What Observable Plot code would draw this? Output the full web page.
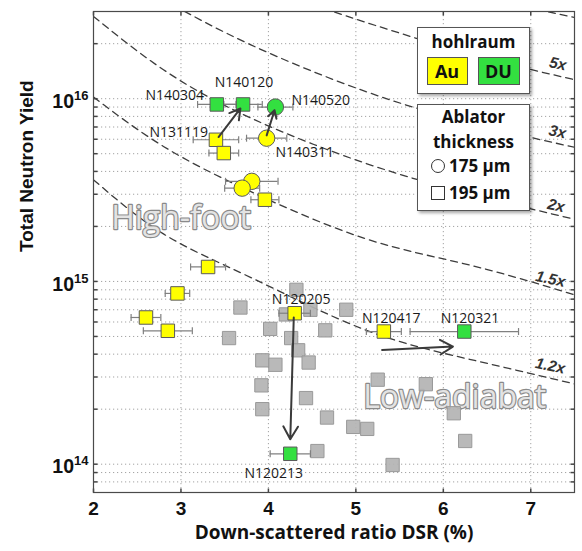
<!DOCTYPE html>
<html>
<head>
<meta charset="utf-8">
<script src="https://cdn.jsdelivr.net/npm/d3@7"></script>
<script src="https://cdn.jsdelivr.net/npm/@observablehq/plot@0.6"></script>
<style>
  body { margin: 0; background: #fff; }
  #wrap { position: relative; width: 582px; height: 551px; }
  #wrap svg { position: absolute; left: 0; top: 0; }
  .box { position: absolute; box-sizing: border-box; background: #fff; border: 1.5px solid #555;
         box-shadow: 2px 2px 3px rgba(0,0,0,0.35); font-family: "Open Sans", sans-serif; font-weight: bold; color: #111; }
  .box div { position: absolute; }
  .ctr { left: 0; right: 0; text-align: center; font-size: 17px; line-height: 24px; }
  .sw { box-sizing: border-box; border: 1px solid #555; width: 41px; height: 28px; text-align: center; line-height: 26px; font-size: 18px; }
  .row { left: 31px; font-size: 17px; line-height: 24px; white-space: nowrap; }
  .ic { box-sizing: border-box; border: 1.6px solid #333; width: 14px; height: 14px; background: #fff; left: 13px; }
</style>
</head>
<body>
<div id="wrap"></div>
<script>
// ---- axes / ticks ----
const xTicks = [2, 3, 4, 5, 6, 7];
const yMajor = [1e14, 1e15, 1e16];
const yGrid = [8e13, 9e13, 1e14, 2e14, 3e14, 4e14, 5e14, 6e14, 7e14, 8e14, 9e14,
               1e15, 2e15, 3e15, 4e15, 5e15, 6e15, 7e15, 8e15, 9e15, 1e16, 2e16];

// ---- gray (low-adiabat database) shots ----
const grayDSR   = [4.32, 3.68, 4.48, 4.20, 4.89, 4.02, 4.65, 3.55, 4.26, 4.34, 3.93, 4.08, 4.46,
                   5.25, 3.92, 4.43, 3.93, 4.67, 4.97, 5.13, 4.56, 5.42, 5.80, 6.12, 6.25];
const grayYield = [9.0e14, 7.2e14, 7.0e14, 6.6e14, 7.0e14, 5.5e14, 5.4e14, 4.9e14, 4.9e14, 4.2e14, 3.7e14, 3.5e14, 3.6e14,
                   2.9e14, 2.7e14, 2.3e14, 2.0e14, 1.8e14, 1.6e14, 1.56e14, 1.18e14, 9.9e13, 2.74e14, 1.9e14, 1.34e14];

// ---- highlighted shots ----
const shotHohlraum = ["DU","DU","DU","Au","Au","Au","Au","Au","Au","Au","Au","Au","Au","Au","DU","Au","DU"];
const shotAblator  = [195, 195, 175, 195, 175, 195, 175, 175, 195, 195, 195, 195, 195, 195, 195, 195, 195];
const shotDSR      = [3.41, 3.71, 4.08, 3.40, 3.98, 3.49, 3.81, 3.70, 3.96, 3.31, 2.96, 2.60, 2.85, 4.30, 4.25, 5.32, 6.24];
const shotYield    = [9.3e15, 9.3e15, 9.0e15, 5.96e15, 6.08e15, 5.04e15, 3.53e15, 3.24e15, 2.80e15,
                      1.2e15, 8.6e14, 6.35e14, 5.37e14, 6.7e14, 1.14e14, 5.32e14, 5.32e14];
const shotDSRErr   = [0.22, 0.22, 0.20, 0.26, 0.23, 0.17, 0.30, 0.20, 0.16, 0.20, 0.14, 0.17, 0.28, 0.18, 0.23, 0.20, 0.62];

// ---- shot labels ----
const labelText   = ["N140304","N140120","N140520","N131119","N140311","N120205","N120213","N120417","N120321"];
const labelDSR    = [3.263, 3.72, 4.263, 3.309, 4.081, 4.374, 4.062, 5.404, 6.305];
const labelYield  = [1.045e16, 1.22e16, 9.72e15, 6.5e15, 5.1e15, 7.92e14, 8.86e13, 6.28e14, 6.28e14];
const labelAnchor = ["end","middle","start","end","start","middle","middle","middle","middle"];

// ---- arrows ----
const arrowFromDSR   = [3.43, 3.98, 4.29, 5.30];
const arrowFromYield = [6.17e15, 6.3e15, 6.35e14, 4.22e14];
const arrowToDSR     = [3.68, 4.07, 4.25, 6.11];
const arrowToYield   = [8.84e15, 8.65e15, 1.37e14, 4.4e14];

// ---- iso-amplification dashed curves ----
const curveDSR  = [2.0, 2.8, 3.8, 5.1, 6.3, 7.5];
const curve1_2  = [3.6e15, 1.82e15, 1.05e15, 5.45e14, 3.75e14, 2.75e14];
const curve1_5  = [1.02e16, 5.48e15, 3.1e15, 1.72e15, 1.23e15, 8.45e14];
const curve2    = [2.82e16, 1.44e16, 7.83e15, 4.45e15, 3.02e15, 2.19e15];
const curve3DSR = [2.8, 3.8, 5.1, 6.3, 7.5];
const curve3    = [3.47e16, 1.97e16, 1.1e16, 7.38e15, 5.42e15];
const curve5DSR = [4.5, 5.1, 6.3, 7.5];
const curve5    = [3.29e16, 2.63e16, 1.76e16, 1.27e16];
const curveTopDSR = [6.8, 7.5];
const curveTop    = [3.3e16, 2.78e16];

const curveLabelText  = ["5x", "3x", "2x", "1.5x", "1.2x"];
const curveLabelDSR   = [7.31, 7.305, 7.29, 7.225, 7.222];
const curveLabelYield = [1.55e16, 6.58e15, 2.6e15, 1.03e15, 3.45e14];

// ---- background region labels ----
const regionText  = ["High-foot", "Low-adiabat"];
const regionDSR   = [3.0, 6.13];
const regionYield = [2.2e15, 2.31e14];

// ---- colours ----
const hohlraumColor = { Au: "#ffff00", DU: "#33e040" };

// ---- build tables ----
const curveRows = [];
[[curveDSR, curve1_2, "1.2x"], [curveDSR, curve1_5, "1.5x"], [curveDSR, curve2, "2x"],
 [curve3DSR, curve3, "3x"], [curve5DSR, curve5, "5x"], [curveTopDSR, curveTop, "top"]]
  .forEach(([xs, ys, c]) => xs.forEach((x, i) => curveRows.push({ x, y: ys[i], c })));

const gray = grayDSR.map((x, i) => ({ x, y: grayYield[i] }));
const shots = shotDSR.map((x, i) => ({ x, y: shotYield[i], e: shotDSRErr[i], h: shotHohlraum[i], a: shotAblator[i] }));
const labels = labelText.map((t, i) => ({ t, x: labelDSR[i], y: labelYield[i], anchor: labelAnchor[i] }));
const arrows = arrowFromDSR.map((x1, i) => ({ x1, y1: arrowFromYield[i], x2: arrowToDSR[i], y2: arrowToYield[i] }));
const curveLabels = curveLabelText.map((t, i) => ({ t, x: curveLabelDSR[i], y: curveLabelYield[i] }));
const regions = regionText.map((t, i) => ({ t, x: regionDSR[i], y: regionYield[i] }));

// custom tick / cap symbols
const vCap = { draw(ctx) { ctx.moveTo(0, -3.5); ctx.lineTo(0, 3.5); } };
const tickL = { draw(ctx) { ctx.moveTo(0, 0); ctx.lineTo(4, 0); } };
const tickR = { draw(ctx) { ctx.moveTo(0, 0); ctx.lineTo(-4, 0); } };
const tickB = { draw(ctx) { ctx.moveTo(0, 0); ctx.lineTo(0, -4); } };
const tickT = { draw(ctx) { ctx.moveTo(0, 0); ctx.lineTo(0, 4); } };

const labelFont = { fontFamily: "Open Sans", fontSize: 14, fill: "#1a1a1a" };

const chart = Plot.plot({
  width: 582, height: 551,
  marginLeft: 93, marginRight: 8, marginTop: 11, marginBottom: 59,
  style: { fontFamily: "Liberation Sans", background: "#fff" },
  x: { domain: [2, 7.5] },
  y: { type: "log", domain: [7e13, 3e16] },
  marks: [
    Plot.gridX({ ticks: xTicks, stroke: "#999", strokeOpacity: 0.9, strokeDasharray: "1.2,2.8" }),
    Plot.gridY({ ticks: yGrid, stroke: "#999", strokeOpacity: 0.9, strokeDasharray: "1.2,2.8" }),
    Plot.line(curveRows, { x: "x", y: "y", z: "c", stroke: "#3c3c3c", strokeWidth: 1.3, strokeDasharray: "7,5", curve: "natural", clip: true }),
    Plot.text(regions, { x: "x", y: "y", text: "t", fontFamily: "Open Sans", fontSize: 32, fill: "#e3e3e3", stroke: "#8a8a8a", strokeWidth: 2.4 }),
    Plot.dot(gray, { x: "x", y: "y", symbol: "square", r: 7.5, fill: "#b3b3b3", fillOpacity: 0.92, stroke: "#999", strokeWidth: 1 }),
    Plot.ruleY(shots, { y: "y", x1: d => d.x - d.e, x2: d => d.x + d.e, stroke: "#808080", strokeWidth: 1.2 }),
    Plot.dot(shots, { x: d => d.x - d.e, y: "y", symbol: vCap, fill: "none", stroke: "#808080", strokeWidth: 1.2 }),
    Plot.dot(shots, { x: d => d.x + d.e, y: "y", symbol: vCap, fill: "none", stroke: "#808080", strokeWidth: 1.2 }),
    Plot.dot(shots.filter(d => d.a === 195), { x: "x", y: "y", symbol: "square", r: 7.6, fill: d => hohlraumColor[d.h], stroke: "#5a5a5a", strokeWidth: 1 }),
    Plot.dot(shots.filter(d => d.a === 175), { x: "x", y: "y", symbol: "circle", r: 8.2, fill: d => hohlraumColor[d.h], stroke: "#5a5a5a", strokeWidth: 1 }),
    Plot.arrow(arrows, { x1: "x1", y1: "y1", x2: "x2", y2: "y2", stroke: "#3a3a3a", strokeWidth: 2, headLength: 11 }),
    Plot.text(labels.filter(d => d.anchor === "middle"), { x: "x", y: "y", text: "t", textAnchor: "middle", ...labelFont }),
    Plot.text(labels.filter(d => d.anchor === "start"), { x: "x", y: "y", text: "t", textAnchor: "start", ...labelFont }),
    Plot.text(labels.filter(d => d.anchor === "end"), { x: "x", y: "y", text: "t", textAnchor: "end", ...labelFont }),
    Plot.text(curveLabels, { x: "x", y: "y", text: "t", fontFamily: "Liberation Sans", fontWeight: "bold", fontStyle: "italic", fontSize: 15.5, fill: "#333", rotate: 12 }),
    // inward frame ticks
    Plot.dot(yGrid, { y: d => d, frameAnchor: "left", symbol: tickL, fill: "none", stroke: "#444" }),
    Plot.dot(yGrid, { y: d => d, frameAnchor: "right", symbol: tickR, fill: "none", stroke: "#444" }),
    Plot.dot(xTicks, { x: d => d, frameAnchor: "bottom", symbol: tickB, fill: "none", stroke: "#444" }),
    Plot.dot(xTicks, { x: d => d, frameAnchor: "top", symbol: tickT, fill: "none", stroke: "#444" }),
    Plot.frame({ stroke: "#4a4a4a", strokeWidth: 1.2 }),
    Plot.axisX({ ticks: xTicks, tickSize: 0, tickPadding: 9, tickFormat: d => String(d), fontSize: 19, fontWeight: "bold", fill: "#111", label: null }),
    Plot.axisY({ ticks: yMajor, tickSize: 0, tickPadding: 5, dy: 3, tickFormat: d => String(Math.round(Math.log10(d))), fontSize: 19.5, fontWeight: "bold", fill: "#111", label: null }),
    Plot.text(["Down-scattered ratio DSR (%)"], { text: d => d, frameAnchor: "bottom", dy: 46, fontFamily: "Open Sans", fontWeight: "bold", fontSize: 19, fill: "#111" }),
    Plot.text(["Total Neutron Yield"], { text: d => d, frameAnchor: "left", dx: -67, rotate: -90, fontFamily: "Liberation Sans", fontWeight: "bold", fontSize: 19, fill: "#111" })
  ]
});

// superscript exponents on y tick labels
const NS = "http://www.w3.org/2000/svg";
chart.querySelectorAll('g[aria-label="y-axis tick label"] text').forEach(t => {
  const exp = t.textContent;
  t.textContent = "";
  const base = document.createElementNS(NS, "tspan");
  base.textContent = "10";
  const sup = document.createElementNS(NS, "tspan");
  sup.setAttribute("dy", "-8");
  sup.setAttribute("font-size", "13");
  sup.textContent = exp;
  t.appendChild(base);
  t.appendChild(sup);
});

const wrap = document.getElementById("wrap");
wrap.appendChild(chart);

// legend boxes (HTML overlay)
wrap.insertAdjacentHTML("beforeend", `
  <div class="box" style="left:417px;top:27px;width:113px;height:67px;">
    <div class="ctr" style="top:2px;">hohlraum</div>
    <div class="sw" style="left:8.5px;top:28.5px;background:${hohlraumColor.Au};">Au</div>
    <div class="sw" style="left:59.5px;top:28.5px;width:42px;background:${hohlraumColor.DU};">DU</div>
  </div>
  <div class="box" style="left:417px;top:104px;width:113px;height:107px;">
    <div class="ctr" style="top:0px;">Ablator</div>
    <div class="ctr" style="top:25px;">thickness</div>
    <div class="ic" style="top:54px;border-radius:50%;"></div>
    <div class="row" style="top:49px;">175 μm</div>
    <div class="ic" style="top:80.5px;"></div>
    <div class="row" style="top:75.5px;">195 μm</div>
  </div>
`);
</script>
</body>
</html>
